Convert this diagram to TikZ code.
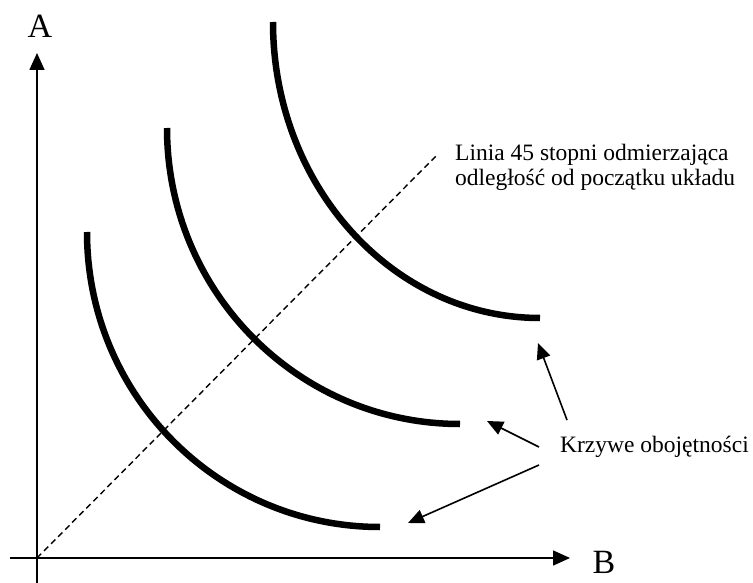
\documentclass[tikz,border=0pt]{standalone}
\usepackage{fontspec}
\setmainfont{Liberation Serif}
\usetikzlibrary{arrows.meta}
\begin{document}
\begin{tikzpicture}[x=1pt,y=-1pt,
  axis/.style={line width=1.6pt,-{Triangle[length=17pt,width=15pt]}},
  curve/.style={line width=6.5pt},
  diag/.style={line width=1.4pt,dash pattern=on 6pt off 4pt},
  pointer/.style={line width=1.6pt,-{Triangle[length=16pt,width=14pt]}},
  axlabel/.style={inner sep=0pt,font=\fontsize{34}{40}\selectfont},
  txt/.style={inner sep=0pt,font=\fontsize{23.5}{25}\selectfont}]
\useasboundingbox (0,0) rectangle (753,583);
% axes
\coordinate (O) at (37,558);
\coordinate (ybot) at (37,583);
\coordinate (ytop) at (37,53);
\coordinate (xleft) at (10,558);
\coordinate (xright) at (570,558);
\draw[axis] (ybot) -- (ytop);
\draw[axis] (xleft) -- (xright);
\node[axlabel] (A) at (40,26) {A};
\node[axlabel] (B) at (604,562) {B};
% 45 degree line
\coordinate (dend) at (437,155);
\draw[diag] (O) -- (dend);
% indifference curves
\coordinate (c1s) at (87,232);
\coordinate (c1e) at (380,527);
\coordinate (c2s) at (167,128);
\coordinate (c2e) at (460,424);
\coordinate (c3s) at (273,22);
\coordinate (c3e) at (540,318);
\draw[curve] (c1s) .. controls (87,395) and (218,527) .. (c1e);
\draw[curve] (c2s) .. controls (167,291.5) and (298,424) .. (c2e);
\draw[curve] (c3s) .. controls (273,185.5) and (392.5,318) .. (c3e);
% labels
\node[txt,anchor=north west,align=left] (lin) at (455,144)
  {Linia 45 stopni odmierzająca\\odległość od początku układu};
\node[txt,anchor=base west] (kr) at (560,452) {Krzywe obojętności};
% pointers
\coordinate (p1s) at (567,420);
\coordinate (p1e) at (538,343);
\coordinate (p2s) at (539,447);
\coordinate (p2e) at (487,421);
\coordinate (p3s) at (539,465);
\coordinate (p3e) at (408,523);
\draw[pointer] (p1s) -- (p1e);
\draw[pointer] (p2s) -- (p2e);
\draw[pointer] (p3s) -- (p3e);
\end{tikzpicture}
\end{document}
